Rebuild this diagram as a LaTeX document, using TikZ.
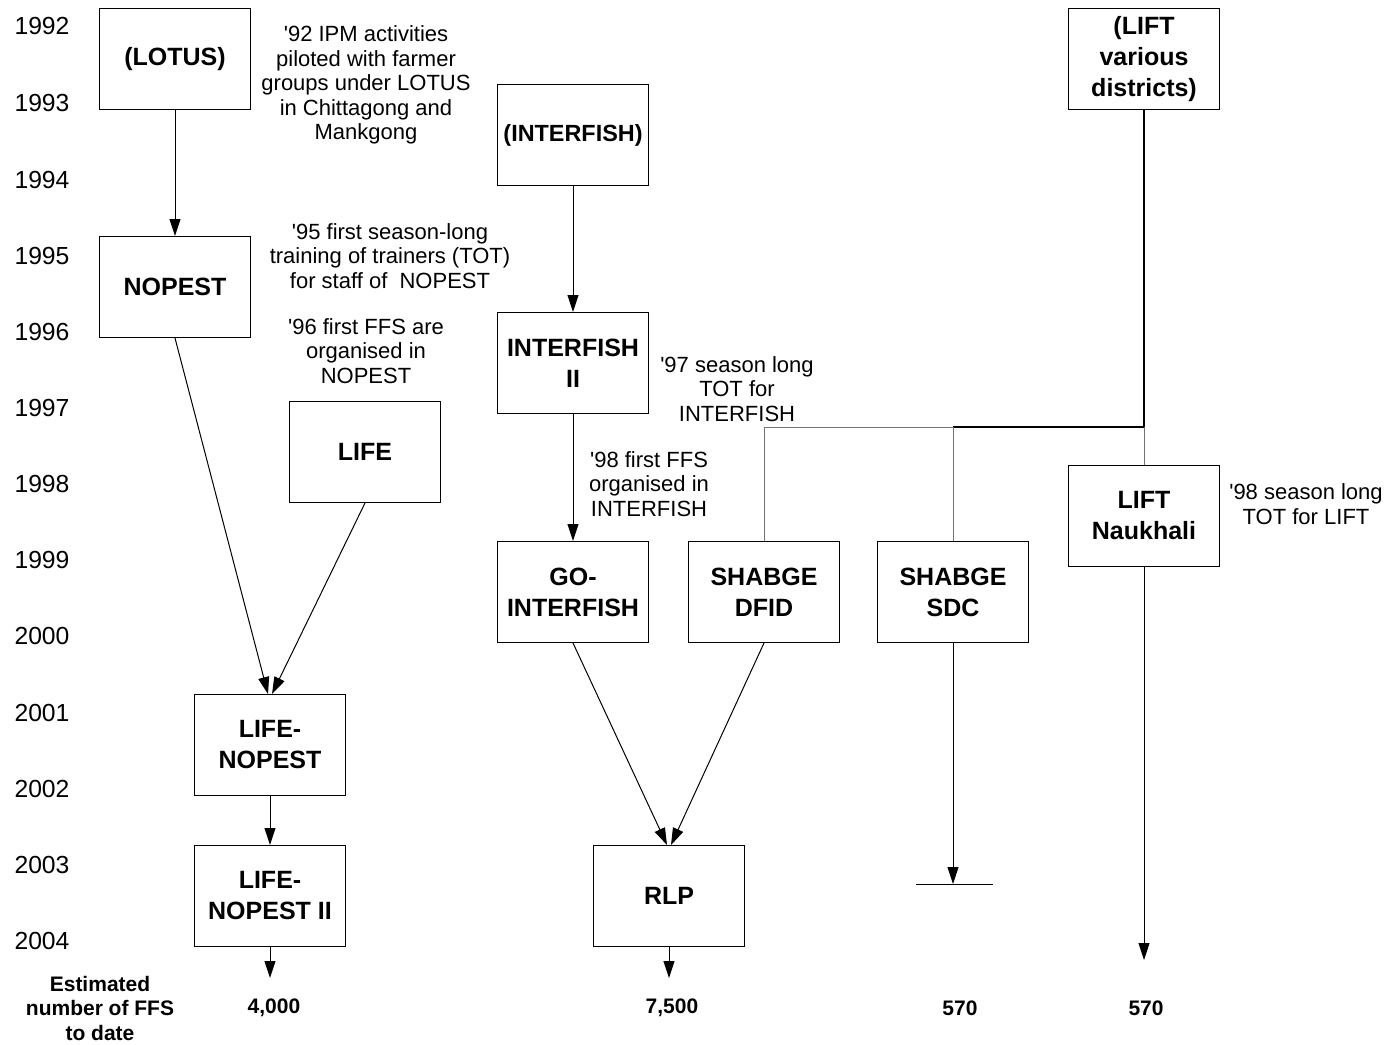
\documentclass[tikz,border=0pt]{standalone}
\usepackage{fontspec}
\setmainfont{Liberation Sans}
\usetikzlibrary{arrows.meta}

\begin{document}
\begin{tikzpicture}[x=0.5pt,y=-0.5pt,auto,
        box/.style={rectangle,draw,line width=0.5pt,minimum width=75.5pt,minimum height=50.5pt,inner sep=1pt,align=center,font=\fontsize{12.5}{15.5}\selectfont\bfseries},
        note/.style={align=center,inner sep=0pt,font=\fontsize{11}{12.25}\selectfont},
        year/.style={inner sep=0pt,font=\fontsize{12.35}{14}\selectfont},
        total/.style={align=center,inner sep=0pt,font=\fontsize{10.5}{12.25}\selectfont\bfseries},
        link/.style={-{Triangle[length=8.5pt,width=5.5pt]},line width=0.5pt},
        branch/.style={draw=black!55,line width=0.5pt}]
        \useasboundingbox (0,0) rectangle (1385,1044);
        \node[year] (1992) at (42,26) {1992};
        \node[year] (1993) at (42,103) {1993};
        \node[year] (1994) at (42,180) {1994};
        \node[year] (1995) at (42,256) {1995};
        \node[year] (1996) at (42,332) {1996};
        \node[year] (1997) at (42,408) {1997};
        \node[year] (1998) at (42,484) {1998};
        \node[year] (1999) at (42,560) {1999};
        \node[year] (2000) at (42,636) {2000};
        \node[year] (2001) at (42,713) {2001};
        \node[year] (2002) at (42,789) {2002};
        \node[year] (2003) at (42,865) {2003};
        \node[year] (2004) at (42,941) {2004};
        \node[box] (1) at (175,59) {(LOTUS)};
        \node[box] (2) at (175,287) {NOPEST};
        \node[box] (3) at (365,452) {LIFE};
        \node[box] (4) at (270,745) {LIFE-\\NOPEST};
        \node[box] (5) at (270,896) {LIFE-\\NOPEST II};
        \node[box,font=\fontsize{11.7}{15.5}\selectfont\bfseries] (6) at (573,135) {(INTERFISH)};
        \node[box] (7) at (573,363) {INTERFISH\\II};
        \node[box] (8) at (573,592) {GO-\\INTERFISH};
        \node[box] (9) at (764,592) {SHABGE\\DFID};
        \node[box] (10) at (953,592) {SHABGE\\SDC};
        \node[box] (11) at (1144,59) {(LIFT\\various\\districts)};
        \node[box] (12) at (1144,516) {LIFT\\Naukhali};
        \node[box] (13) at (669,896) {RLP};
        \node[note] (14) at (366,85) {\textquotesingle92 IPM activities\\piloted with farmer\\groups under LOTUS\\in Chittagong and\\Mankgong};
        \node[note] (15) at (390,256) {\textquotesingle95 first season-long\\training of trainers (TOT)\\for staff of\ \ NOPEST};
        \node[note] (16) at (366,351) {\textquotesingle96 first FFS are\\organised in\\NOPEST};
        \node[note] (17) at (737,389) {\textquotesingle97 season long\\TOT for\\INTERFISH};
        \node[note] (18) at (649,484) {\textquotesingle98 first FFS\\organised in\\INTERFISH};
        \node[note] (19) at (1306,504) {\textquotesingle98 season long\\TOT for LIFT};
        \node[total] (20) at (100,1008) {Estimated\\number of FFS\\to date};
        \node[total] (21) at (274,1008) {4,000};
        \node[total] (22) at (672,1008) {7,500};
        \node[total] (23) at (960,1008) {570};
        \node[total] (24) at (1146,1008) {570};
        \coordinate (j1) at (1144,427);
        \coordinate (j2) at (953,427);
        \coordinate (e1) at (270,978);
        \coordinate (e2) at (669,978);
        \coordinate (e3) at (953,884);
        \coordinate (e4) at (1144,960);
        \coordinate (b1) at (916,884);
        \coordinate (b2) at (993,884);
        \path[link]
          (1) edge (2)
          (2.south) edge ([xshift=-1pt]4.north)
          (3.south) edge ([xshift=1pt]4.north)
          (4) edge (5)
          (5) edge (e1)
          (6) edge (7)
          (7) edge (8)
          (8.south) edge ([xshift=-1pt]13.north)
          (9.south) edge ([xshift=1pt]13.north)
          (13) edge (e2)
          (10) edge (e3)
          (12) edge (e4);
        \draw[line width=1pt] (11) |- (j2);
        \draw[branch] (j2) -| (9);
        \draw[branch] (j2) -- (10);
        \draw[branch] (j1) -- (12);
        \draw[line width=0.5pt] (b1) -- (b2);
      \end{tikzpicture}
\end{document}
